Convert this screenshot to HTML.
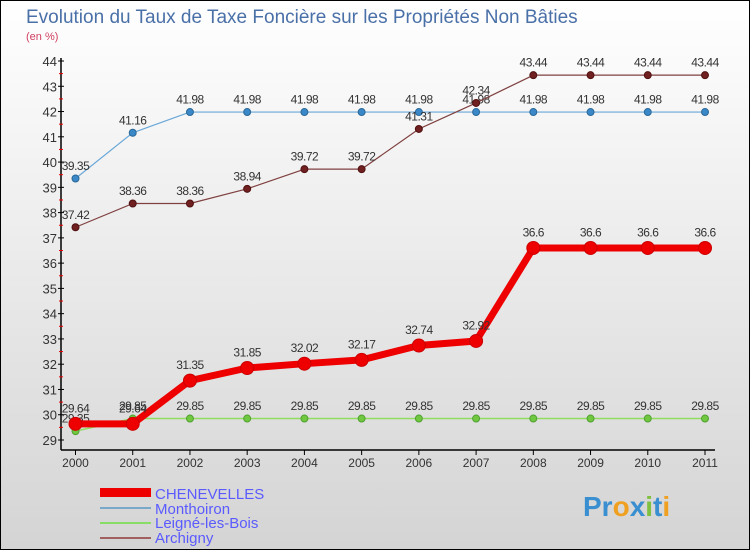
<!DOCTYPE html>
<html><head><meta charset="utf-8"><style>
body{margin:0;width:750px;height:550px;overflow:hidden;font-family:"Liberation Sans",sans-serif}
</style></head><body>
<svg id="c" width="750" height="550" xmlns="http://www.w3.org/2000/svg">
<defs><linearGradient id="bg" x1="0" y1="0" x2="0" y2="1"><stop offset="0" stop-color="#ffffff"/><stop offset="1" stop-color="#d4d4d4"/></linearGradient></defs>
<rect x="0.5" y="0.5" width="749" height="549" fill="url(#bg)" stroke="#000"/>
<text x="26" y="23" font-size="19" fill="#4a70a8">Evolution du Taux de Taxe Foncière sur les Propriétés Non Bâties</text>
<text x="26" y="40" font-size="11" fill="#d04060">(en %)</text>
<g id="axes"></g><g id="series"></g>
<g>
<rect x="100" y="488" width="51" height="9" fill="#e00"/>
<text x="155" y="499" font-size="15" fill="#5a5aff">CHENEVELLES</text>
<line x1="100" y1="508" x2="151" y2="508" stroke="#7aa8c8" stroke-width="2"/>
<text x="155" y="514" font-size="15" fill="#5a5aff">Monthoiron</text>
<line x1="100" y1="523" x2="151" y2="523" stroke="#88dd66" stroke-width="2"/>
<text x="155" y="528" font-size="15" fill="#5a5aff">Leigné-les-Bois</text>
<line x1="100" y1="538" x2="151" y2="538" stroke="#a06060" stroke-width="2"/>
<text x="155" y="543" font-size="15" fill="#5a5aff">Archigny</text>
</g>
<g font-size="28" font-weight="bold">
<text x="583" y="516"><tspan fill="#3a8fd0">Pr</tspan><tspan fill="#f0a020">o</tspan><tspan fill="#3a8fd0">x</tspan><tspan fill="#80c040">i</tspan><tspan fill="#3a8fd0">t</tspan><tspan fill="#f0a020">i</tspan></text>
</g>
</svg>
<script>
const years=["2000","2001","2002","2003","2004","2005","2006","2007","2008","2009","2010","2011"];
const yTicks=[29,30,31,32,33,34,35,36,37,38,39,40,41,42,43,44];
const chenevelles=[29.64,29.64,31.35,31.85,32.02,32.17,32.74,32.92,36.6,36.6,36.6,36.6];
const monthoiron=[39.35,41.16,41.98,41.98,41.98,41.98,41.98,41.98,41.98,41.98,41.98,41.98];
const leigne=[29.35,29.85,29.85,29.85,29.85,29.85,29.85,29.85,29.85,29.85,29.85,29.85];
const archigny=[37.42,38.36,38.36,38.94,39.72,39.72,41.31,42.34,43.44,43.44,43.44,43.44];
const NS="http://www.w3.org/2000/svg";
const X=i=>75.5+i*(705-75.5)/(years.length-1);
const Y=v=>440-(v-29)*(440-61)/15;
function mk(t,a,p){const e=document.createElementNS(NS,t);for(const k in a)e.setAttribute(k,a[k]);p.appendChild(e);return e;}
const ax=document.getElementById('axes');
let e=mk('line',{x1:61,y1:58,x2:61,y2:450,stroke:'#000','stroke-width':1.5},ax);


e=mk('line',{x1:61,y1:450,x2:715,y2:450,stroke:'#000','stroke-width':1.5},ax);


yTicks.forEach(v=>{
 mk('line',{x1:58,x2:64,y1:Y(v),y2:Y(v),stroke:'#000'},ax);
 if(v<44)mk('line',{x1:59,x2:63,y1:Y(v+0.5),y2:Y(v+0.5),stroke:'#e00'},ax);
 const t=mk('text',{x:57,y:Y(v)+5,'font-size':13,'text-anchor':'end',fill:'#333'},ax);t.textContent=v;
 
 
});
years.forEach((y,i)=>{
 mk('line',{x1:X(i),x2:X(i),y1:450,y2:455,stroke:'#000'},ax);
 const t=mk('text',{x:X(i),y:467,'font-size':12,'text-anchor':'middle',fill:'#333'},ax);t.textContent=y;
 
 
});
const sg=document.getElementById('series');
function series(name,vals,color,w,r,dot,dotStroke,fs){
 const g=mk('g',{},sg);
 
 
 mk('polyline',{points:vals.map((v,i)=>X(i)+','+Y(v)).join(' '),fill:'none',stroke:color,'stroke-width':w,'stroke-linejoin':'round'},g);
 vals.forEach((v,i)=>{
  const c=mk('circle',{cx:X(i),cy:Y(v),r:r,fill:dot,stroke:dotStroke,'stroke-width':1},g);
  
  
  const t=mk('text',{x:X(i),y:Y(v)-(r+5),'font-size':fs,'text-anchor':'middle',fill:'#333','letter-spacing':'-0.5'},g);
  t.textContent=String(v);
 });
}
series('monthoiron',monthoiron,'#6aa8d8',1.2,3.5,'#3a88c8','#2a6898',12);
series('archigny',archigny,'#804040',1.2,3.5,'#702020','#501010',12);
series('leigne',leigne,'#90dd60',1.5,3.5,'#70c840','#50a030',12);
series('chenevelles',chenevelles,'#ee0000',7,6.5,'#ee0000','#cc0000',12);
</script>
</body></html>
